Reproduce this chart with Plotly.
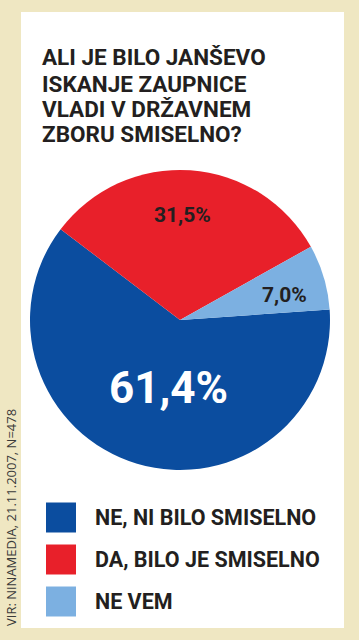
import plotly.graph_objects as go

# ---- data ----
categories = ["NE, NI BILO SMISELNO", "DA, BILO JE SMISELNO", "NE VEM"]
values = [61.4, 31.5, 7.0]
colors = ["#0b4d9f", "#e8202a", "#7cb0e1"]
title_lines = ["ALI JE BILO JANŠEVO", "ISKANJE ZAUPNICE", "VLADI V DRŽAVNEM", "ZBORU SMISELNO?"]
source = "VIR: NINAMEDIA, 21.11.2007, N=478"

W, H = 359, 640
BG = "#efe7c2"
INK = "#231f20"
FONT = "Roboto"

def fmt(v):
    return f"{v:.1f}".replace(".", ",") + "%"

fig = go.Figure()

# pie centred at (180, 320) px with radius 150
cx, cy, r = 180, 320, 150
fig.add_trace(go.Pie(
    labels=categories, values=values, sort=False, direction="clockwise",
    rotation=86, marker=dict(colors=colors, line=dict(width=0)),
    textinfo="none", hoverinfo="label+percent", showlegend=False,
    domain=dict(x=[(cx - r) / W, (cx + r) / W], y=[1 - (cy + r) / H, 1 - (cy - r) / H]),
))

# legend built from the categories as square markers
idx = list(range(len(categories)))
fig.add_trace(go.Scatter(
    x=[0] * len(categories), y=idx, mode="markers",
    marker=dict(symbol="square", size=30, color=colors, line=dict(width=0)),
    showlegend=False, hoverinfo="skip", xaxis="x", yaxis="y",
))

row0, step = 517.5, 42.0
fig.update_layout(
    xaxis=dict(domain=[0, 1], range=[-61, W - 61], visible=False, fixedrange=True),
    yaxis=dict(domain=[0, 1], range=[(H - row0) / step, -row0 / step], visible=False, fixedrange=True),
)

annotations = []
for i, c in enumerate(categories):
    annotations.append(dict(
        x=32, y=i, xref="x", yref="y", text=c, showarrow=False,
        xanchor="left", yanchor="middle",
        font=dict(family=FONT, size=21.5, color=INK, weight="bold"),
    ))

# slice labels
label_pos = [(168, 388, 44, "white"), (182, 215, 21, INK), (284, 295, 21, INK)]
for v, (px, py, fs, col) in zip(values, label_pos):
    annotations.append(dict(
        x=px / W, y=1 - py / H, xref="paper", yref="paper", text=fmt(v),
        showarrow=False, xanchor="center", yanchor="middle",
        font=dict(family=FONT, size=fs, color=col, weight="bold"),
    ))

# title, one annotation per line
title_y = [55.8, 82.5, 107.5, 132.5]
for line, ty in zip(title_lines, title_y):
    annotations.append(dict(
        x=40 / W, y=1 - (ty + 1.5) / H, xref="paper", yref="paper",
        text=line, showarrow=False, align="left",
        xanchor="left", yanchor="middle",
        font=dict(family=FONT, size=22.5, color=INK, weight="bold"),
    ))

# source, vertical
annotations.append(dict(
    x=10.5 / W, y=1 - 628 / H, xref="paper", yref="paper", text=source,
    showarrow=False, textangle=-90, xanchor="center", yanchor="bottom",
    font=dict(family="Open Sans", size=13, color="#3a3a3a"),
))

fig.update_layout(
    width=W, height=H, margin=dict(l=0, r=0, t=0, b=0),
    paper_bgcolor=BG, plot_bgcolor="rgba(0,0,0,0)",
    annotations=annotations,
    shapes=[dict(type="rect", xref="paper", yref="paper",
                 x0=21 / W, x1=344 / W, y0=1 - 628 / H, y1=1 - 12 / H,
                 fillcolor="white", line=dict(width=0), layer="below")],
    showlegend=False,
)

fig.write_html("out.html", config={"displayModeBar": False})
